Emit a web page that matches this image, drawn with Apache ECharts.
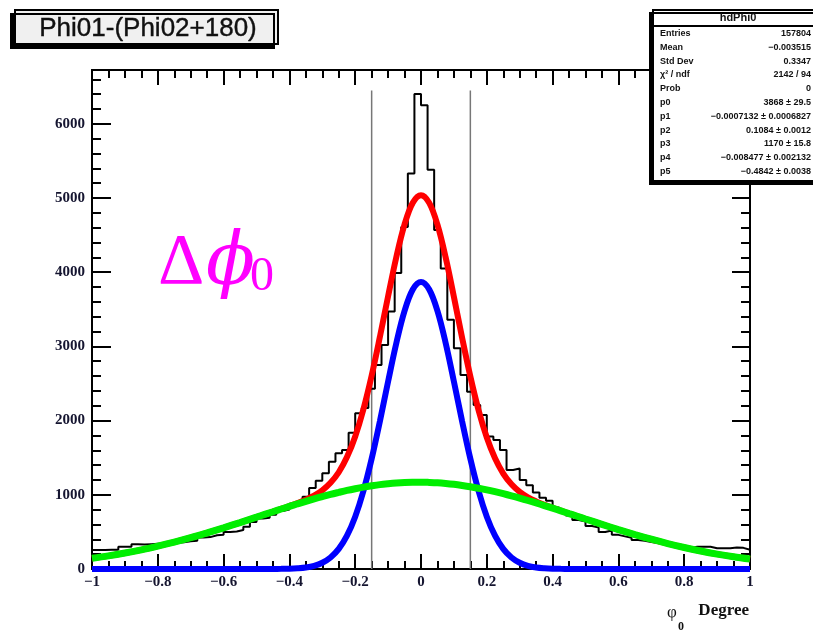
<!DOCTYPE html>
<html>
<head>
<meta charset="utf-8">
<script src="https://cdn.jsdelivr.net/npm/echarts@6/dist/echarts.min.js"></script>
<style>
html,body{margin:0;padding:0;background:#fff;}
#myChart{width:813px;height:632px;}
</style>
</head>
<body>
<div id="myChart"></div>
<script>
//---- hdPhi0 histogram: 100 bins of 0.02 from -1 to 1
var binLow = -1, binWidth = 0.02;
var binCounts = [
  255, 255, 258, 260, 300, 300, 335, 330, 335, 340,
  345, 350, 355, 360, 375, 380, 425, 430, 455, 460,
  500, 505, 525, 570, 635, 680, 690, 730, 780, 800,
  880, 900, 975, 1090, 1190, 1290, 1445, 1560, 1605, 1835,
  2100, 2170, 2430, 2750, 3020, 3470, 3990, 4610, 5330, 6400,
  6250, 5380, 4570, 4050, 3360, 2975, 2615, 2390, 2210, 2075,
  1785, 1740, 1605, 1335, 1355, 1200, 1130, 1030, 960, 920,
  830, 760, 720, 660, 640, 580, 560, 500, 520, 460,
  440, 420, 390, 380, 365, 350, 335, 320, 305, 295,
  285, 300, 300, 300, 280, 280, 280, 290, 285, 260
];

//---- fit curves
var fitX = [
  -1, -0.95, -0.9, -0.85, -0.8, -0.75, -0.7, -0.65, -0.6, -0.55, -0.5,
  -0.475, -0.45, -0.425, -0.4, -0.375, -0.35, -0.325, -0.3, -0.275, -0.25,
  -0.225, -0.2, -0.175, -0.15, -0.125, -0.1, -0.075, -0.05, -0.025, 0,
  0.025, 0.05, 0.075, 0.1, 0.125, 0.15, 0.175, 0.2, 0.225, 0.25,
  0.275, 0.3, 0.325, 0.35, 0.375, 0.4, 0.425, 0.45, 0.475,
  0.5, 0.55, 0.6, 0.65, 0.7, 0.75, 0.8, 0.85, 0.9, 0.95, 1
];
var fitTotal = [
  144, 177, 215, 258, 308, 362, 422, 487, 555, 626, 699,
  736, 773, 810, 848, 889, 933, 988, 1060, 1161, 1304,
  1508, 1787, 2154, 2606, 3127, 3676, 4204, 4644, 4936, 5038,
  4934, 4640, 4198, 3668, 3116, 2594, 2140, 1772, 1491, 1286,
  1141, 1039, 966, 911, 865, 824, 786, 748, 711,
  674, 602, 531, 464, 401, 343, 290, 243, 201, 165, 134
];
var fitNarrow = [
  0, 0, 0, 0, 0, 0, 0, 0, 0, 0, 0,
  0, 1, 2, 4, 10, 21, 43, 84, 155, 271,
  449, 705, 1051, 1485, 1990, 2527, 3045, 3478, 3767, 3868,
  3767, 3478, 3045, 2527, 1990, 1485, 1051, 705, 449, 271,
  155, 84, 43, 21, 10, 4, 2, 1, 0,
  0, 0, 0, 0, 0, 0, 0, 0, 0, 0, 0
];
var fitWide = [
  144, 177, 215, 258, 308, 362, 422, 487, 555, 626, 699,
  736, 772, 808, 844, 879, 912, 945, 976, 1006, 1033,
  1059, 1082, 1103, 1121, 1137, 1149, 1159, 1166, 1169, 1170,
  1167, 1162, 1153, 1141, 1126, 1109, 1089, 1067, 1042, 1015,
  986, 955, 923, 890, 855, 820, 784, 747, 711,
  674, 602, 531, 464, 401, 343, 290, 243, 201, 165, 134
];

//---- cut lines
var cutX = [-0.15, 0.15];
var cutTop = 6450;

//---- stats box
var statTitle = 'hdPhi0';
var statLabels = ['Entries', 'Mean', 'Std Dev', 'χ² / ndf', 'Prob', 'p0', 'p1', 'p2', 'p3', 'p4', 'p5'];
var statValues = ['157804', '−0.003515', '0.3347', '2142 / 94', '0', '3868 ± 29.5',
  '−0.0007132 ± 0.0006827', '0.1084 ± 0.0012', '1170 ± 15.8', '−0.008477 ± 0.002132', '−0.4842 ± 0.0038'];

var yMax = 6725;

var myChart = echarts.init(document.getElementById('myChart'));

var histData = [];
for (var k = 0; k < binCounts.length; k++) {
    histData.push([binLow + k * binWidth, binCounts[k]]);
}
histData.push([binLow + binCounts.length * binWidth, binCounts[binCounts.length - 1]]);

function pairs(xs, ys) {
    var out = [];
    for (var i = 0; i < xs.length; i++) out.push([xs[i], ys[i]]);
    return out;
}
function extend(a, b) {
    return echarts.util.merge(echarts.util.clone(a), b, true);
}

var labelFont = {
    color: '#151530',
    fontFamily: 'Liberation Serif',
    fontWeight: 'bold',
    fontSize: 15
};
var minus = function (v) { return String(v).replace('-', '−'); };

var xBase = {
    type: 'value', min: -1, max: 1, interval: 0.2,
    axisLine: {show: true, onZero: false, lineStyle: {color: '#000', width: 2}},
    axisTick: {show: true, inside: true, length: 15, lineStyle: {color: '#000', width: 2}},
    minorTick: {show: true, splitNumber: 4, length: 8, lineStyle: {color: '#000', width: 2}},
    splitLine: {show: false}
};
var yBase = {
    type: 'value', min: 0, max: yMax,
    axisLine: {show: true, onZero: false, lineStyle: {color: '#000', width: 2}},
    splitLine: {show: false},
    axisLabel: {show: false}
};

var xAxes = [
    extend(xBase, {position: 'bottom', axisLabel: extend(labelFont, {margin: 6, formatter: minus})}),
    extend(xBase, {position: 'top', axisLabel: {show: false}})
];

var yAxes = [
    extend(yBase, {position: 'left', interval: 1000,
        axisTick: {inside: true, length: 19, lineStyle: {color: '#000', width: 2}},
        axisLabel: extend(labelFont, {show: true, margin: 7, showMaxLabel: false,
            formatter: function (v) { return String(v); }})}),
    extend(yBase, {position: 'left', interval: 200,
        axisTick: {inside: true, length: 9, lineStyle: {color: '#000', width: 2}}}),
    extend(yBase, {position: 'right', interval: 1000,
        axisTick: {inside: true, length: 18, lineStyle: {color: '#000', width: 2}}}),
    extend(yBase, {position: 'right', interval: 200,
        axisTick: {inside: true, length: 9, lineStyle: {color: '#000', width: 2}}})
];

var series = [];
// cut lines
for (var c = 0; c < cutX.length; c++) {
    series.push({
        type: 'line', data: [[cutX[c], 0], [cutX[c], cutTop]],
        symbol: 'none', silent: true,
        lineStyle: {color: '#777', width: 1.5}
    });
}
series.push({
    name: 'hdPhi0', type: 'line', step: 'end', data: histData,
    symbol: 'none', lineStyle: {color: '#000', width: 2}
});
var curves = [
    {ys: fitTotal, color: '#ff0000', w: 6},
    {ys: fitNarrow, color: '#0000ff', w: 6},
    {ys: fitWide, color: '#00ee00', w: 7}
];
curves.forEach(function (cv) {
    series.push({
        type: 'line', data: pairs(fitX, cv.ys), smooth: 0.35,
        symbol: 'none', clip: false,
        lineStyle: {color: cv.color, width: cv.w}
    });
});

// stats box
var statChildren = [
    {type: 'rect', z: 100, shape: {x: 0, y: 0, width: 170, height: 171},
     style: {fill: '#fff', stroke: '#000', lineWidth: 2, shadowColor: '#000', shadowOffsetX: -3, shadowOffsetY: 3, shadowBlur: 0}},
    {type: 'line', z: 101, shape: {x1: 0, y1: 16, x2: 170, y2: 16}, style: {stroke: '#000', lineWidth: 2}},
    {type: 'text', z: 101, x: 85, y: 8, style: {text: statTitle, align: 'center', verticalAlign: 'middle',
        font: 'bold 11px "Liberation Sans"', fill: '#111'}}
];
statLabels.forEach(function (lab, i) {
    var yy = 23.5 + i * 13.8;
    statChildren.push({type: 'text', z: 101, x: 7, y: yy, style: {text: lab, verticalAlign: 'middle',
        font: 'bold 9px "Liberation Sans"', fill: '#111'}});
    statChildren.push({type: 'text', z: 101, x: 158, y: yy, style: {text: statValues[i], align: 'right', verticalAlign: 'middle',
        font: 'bold 9px "Liberation Sans"', fill: '#111'}});
});

var graphics = [
    // title box
    {type: 'group', x: 15, y: 10, children: [
        {type: 'rect', shape: {x: 0, y: 0, width: 263, height: 34},
         style: {fill: '#f0f0f0', stroke: '#000', lineWidth: 2, shadowColor: '#000', shadowOffsetX: -4, shadowOffsetY: 4, shadowBlur: 0}},
        {type: 'text', x: 133, y: 19, style: {text: 'Phi01-(Phi02+180)', align: 'center', verticalAlign: 'middle',
            font: '26px "Liberation Sans"', fill: '#111', stroke: '#111', lineWidth: 0.4}}
    ]},
    {type: 'group', x: 653, y: 10, z: 100, children: statChildren},
    // big magenta label
    {type: 'text', x: 158, y: 264, z: 50, style: {text: 'Δ', verticalAlign: 'middle',
        font: '72px "Liberation Serif"', fill: '#ff00ff'}},
    {type: 'text', x: 206, y: 265, z: 50, style: {text: 'ϕ', verticalAlign: 'middle',
        font: 'italic 72px "DejaVu Serif"', fill: '#ff00ff'}},
    {type: 'text', x: 250, y: 277, z: 50, style: {text: '0', verticalAlign: 'middle',
        font: '48px "Liberation Serif"', fill: '#ff00ff'}},
    // x axis title
    {type: 'text', x: 667, y: 613, style: {text: 'φ', verticalAlign: 'middle', font: '17px "Liberation Serif"', fill: '#111'}},
    {type: 'text', x: 678, y: 627, style: {text: '0', verticalAlign: 'middle', font: 'bold 12px "Liberation Serif"', fill: '#111'}},
    {type: 'text', x: 749, y: 611, style: {text: 'Degree', align: 'right', verticalAlign: 'middle',
        font: 'bold 17px "Liberation Serif"', fill: '#111'}}
];

var option = {
    backgroundColor: '#fff',
    animation: false,
    grid: {left: 92, right: 63, top: 70, bottom: 63, containLabel: false},
    xAxis: xAxes,
    yAxis: yAxes,
    series: series,
    graphic: graphics
};
myChart.setOption(option, true);
</script>
</body>
</html>
